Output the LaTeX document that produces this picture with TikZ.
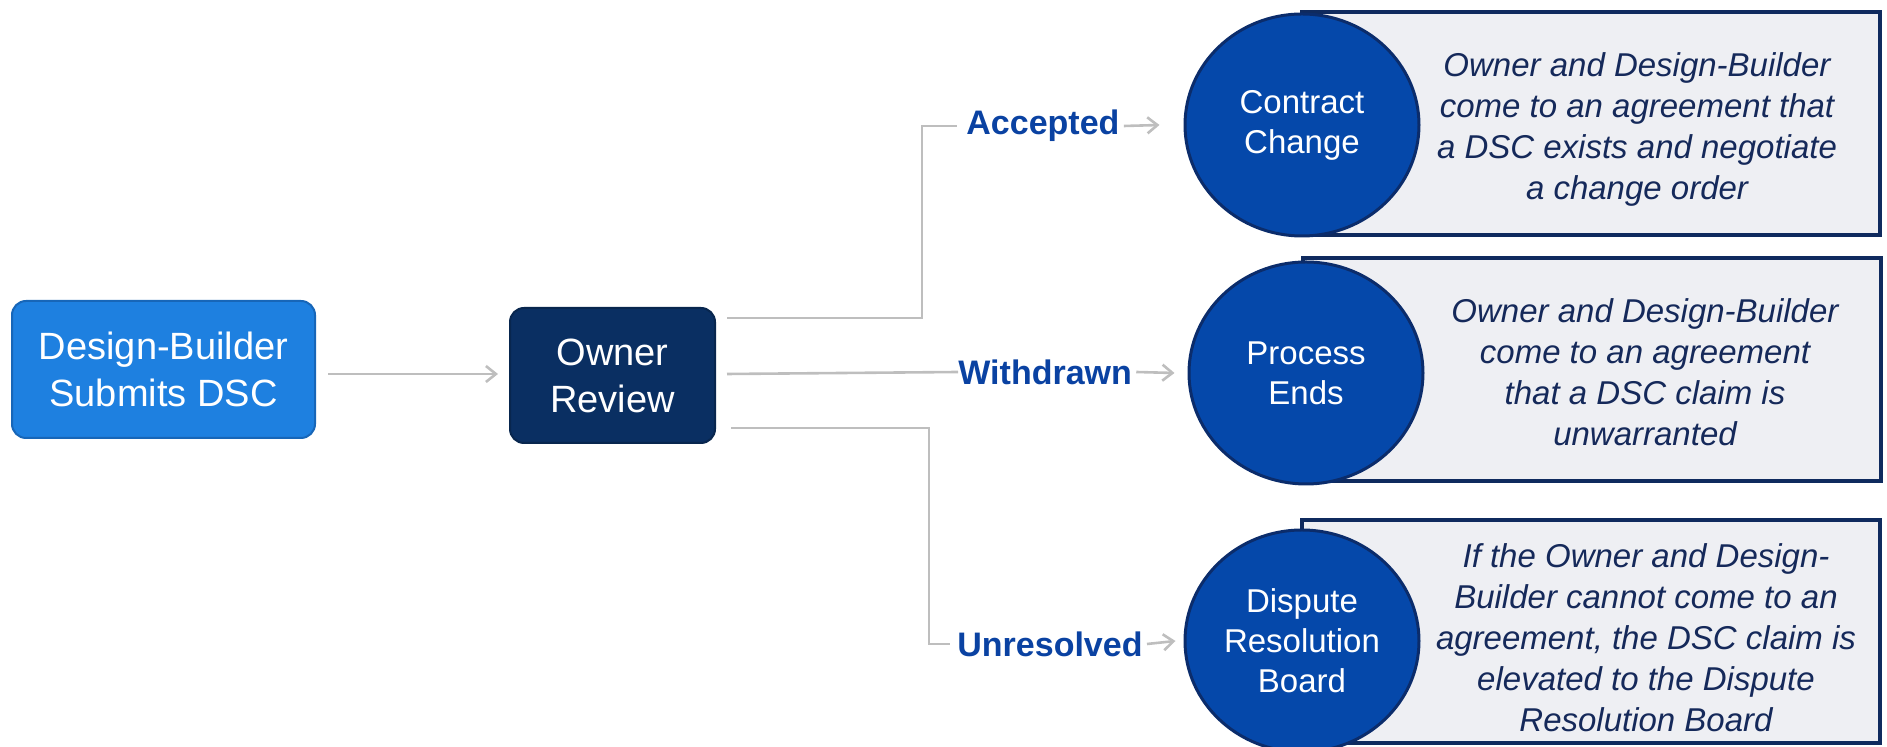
\documentclass[tikz,border=0pt]{standalone}
\usepackage{fontspec}
\setmainfont{Liberation Sans}
\usetikzlibrary{shapes.geometric,arrows.meta,calc}
\definecolor{dbblue}{HTML}{1E80E0}
\definecolor{dbedge}{HTML}{1766B8}
\definecolor{navy}{HTML}{0A2F62}
\definecolor{circfill}{HTML}{0548AA}
\definecolor{circedge}{HTML}{0B2C6B}
\definecolor{boxedge}{HTML}{0F2A5E}
\definecolor{boxfill}{HTML}{EEEFF3}
\definecolor{desctext}{HTML}{15295A}
\definecolor{labblue}{HTML}{0A42A2}
\definecolor{conngray}{HTML}{BEBEBE}
\begin{document}
\begin{tikzpicture}[x=0.5pt,y=-0.5pt,
  dbbox/.style={rectangle, rounded corners=7pt, fill=dbblue, draw=dbedge, line width=1pt,
    minimum width=151.5pt, minimum height=68.5pt, inner sep=0pt, text=white,
    font=\fontsize{19}{23.5}\selectfont, align=center},
  ownbox/.style={rectangle, rounded corners=7pt, fill=navy, draw=navy!80!black, line width=1pt,
    minimum width=102.5pt, minimum height=67.5pt, inner sep=0pt, text=white,
    font=\fontsize{19}{23.5}\selectfont, align=center},
  circnode/.style={ellipse, fill=circfill, draw=circedge, line width=1.5pt,
    minimum width=117pt, minimum height=111pt, inner sep=0pt, text=white,
    font=\fontsize{16.5}{20}\selectfont, align=center},
  descbox/.style={rectangle, fill=boxfill, draw=boxedge, line width=2pt,
    minimum width=289pt, minimum height=111.5pt, inner sep=0pt},
  desctxt/.style={text=desctext, font=\itshape\fontsize{16.5}{20.5}\selectfont, align=center, inner sep=0pt},
  outlabel/.style={text=labblue, font=\bfseries\fontsize{17}{20}\selectfont, inner sep=0pt, anchor=west},
  conn/.style={draw=conngray, line width=1.3pt},
  arr/.style={conn, -{Straight Barb[length=5pt,width=8pt,line width=1.3pt]}}
]
\useasboundingbox (0,0) rectangle (1887,747);

% left boxes
\node[dbbox] (db) at (163.5,369.5) {Design-Builder\\Submits DSC};
\node[ownbox] (own) at (612.5,375.5) {Owner\\Review};

% description boxes
\node[descbox] (b1) at (1591,123.5) {};
\node[descbox] (b2) at (1591.5,370) {};
\node[descbox] (b3) at (1591,632) {};

% circles
\node[circnode] (cc) at (1302,125) {Contract\\Change};
\node[circnode] (pe) at (1306,373) {Process\\Ends};
\node[circnode] (dr) at (1302,641) {Dispute\\Resolution\\Board};

% description texts
\node[desctxt] (t1) at (1637,129) {Owner and Design-Builder\\come to an agreement that\\a DSC exists and negotiate\\a change order};
\node[desctxt] (t2) at (1645,372) {Owner and Design-Builder\\come to an agreement\\that a DSC claim is\\unwarranted};
\node[desctxt] (t3) at (1646,638) {If the Owner and Design-\\Builder cannot come to an\\agreement, the DSC claim is\\elevated to the Dispute\\Resolution Board};

% outcome labels
\node[outlabel] (acc) at (966,126) {Accepted};
\node[outlabel] (wd) at (958,372) {Withdrawn};
\node[outlabel] (unr) at (957,644) {Unresolved};

% connectors
\draw[arr] ($(db.east)+(12,4.5)$) -- ($(own.west)+(-11,-1.5)$);
\draw[conn] ($(own.north east)+(11,11)$) -| ($(acc.west)+(-44,0)$) -- ($(acc.west)+(-9,0)$);
\draw[conn] ($(own.east)+(11,-1.5)$) -- (wd.west);
\draw[conn] ($(own.south east)+(15,-16)$) -| ($(unr.west)+(-28,0)$) -- ($(unr.west)+(-7,0)$);

\draw[arr] ($(acc.east)+(4,0)$) -- ($(cc.west)+(-24,0)$);
\draw[arr] ($(wd.east)+(4,0)$) -- ($(pe.west)+(-13,0)$);
\draw[arr] ($(unr.east)+(4,0)$) -- ($(dr.west)+(-8,0)$);
\end{tikzpicture}
\end{document}
